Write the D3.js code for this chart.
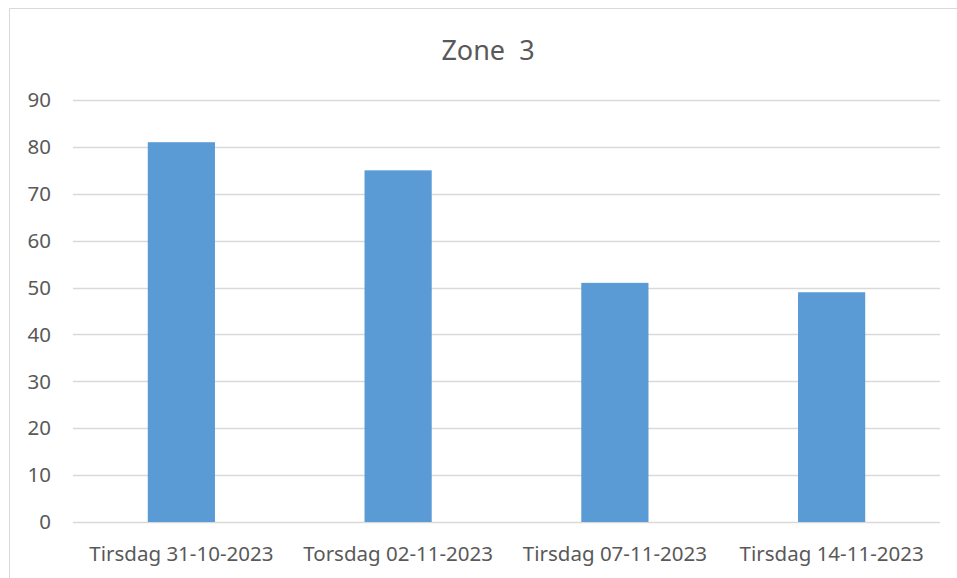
<!DOCTYPE html>
<html>
<head>
<meta charset="utf-8">
<script src="https://cdn.jsdelivr.net/npm/d3@7"></script>
<style>
  body { margin: 0; background: #fff; }
  text { font-family: "Noto Sans", "Liberation Sans", sans-serif; }
</style>
</head>
<body>
<div id="chart_area"></div>
<script>
var width = 957
var height = 578

// Data
var categories = ["Tirsdag 31-10-2023", "Torsdag 02-11-2023", "Tirsdag 07-11-2023", "Tirsdag 14-11-2023"]
var values = [81, 75, 51, 49]
var yTicks = [0, 10, 20, 30, 40, 50, 60, 70, 80, 90]
var title = "Zone\u00a0 3"

var plot = {left: 73, right: 940, top: 100, bottom: 522}

var svg = d3.select("#chart_area")
  .append("svg")
  .attr("width", width)
  .attr("height", height)

// outer border (chart area frame)
svg.append("path")
  .attr("d", "M9.5," + height + " V8.5 H" + width)
  .attr("fill", "none")
  .attr("stroke", "#d9d9d9")
  .attr("stroke-width", 1)

var x = d3.scaleBand()
  .domain(categories)
  .range([plot.left, plot.right])
  .paddingInner(0.69)
  .paddingOuter(0.345)

var y = d3.scaleLinear()
  .domain([0, 90])
  .range([plot.bottom, plot.top])

// gridlines
svg.append("g")
  .selectAll("line")
  .data(yTicks)
  .join("line")
  .attr("x1", plot.left)
  .attr("x2", plot.right)
  .attr("y1", d => Math.round(y(d)) + 0.5)
  .attr("y2", d => Math.round(y(d)) + 0.5)
  .attr("stroke", "#d9d9d9")
  .attr("stroke-width", 1.5)

// y tick labels
svg.append("g")
  .selectAll("text")
  .data(yTicks)
  .join("text")
  .attr("x", 51)
  .attr("y", d => y(d))
  .attr("dy", "0.35em")
  .attr("text-anchor", "end")
  .attr("fill", "#595959")
  .style("font-size", "20.5px")
  .text(d => d)

// bars
svg.append("g")
  .selectAll("rect")
  .data(values)
  .join("rect")
  .attr("x", (d, i) => x(categories[i]))
  .attr("y", d => y(d))
  .attr("width", x.bandwidth())
  .attr("height", d => y(0) - y(d))
  .attr("fill", "#5b9bd5")

// x labels
svg.append("g")
  .selectAll("text")
  .data(categories)
  .join("text")
  .attr("x", d => x(d) + x.bandwidth() / 2)
  .attr("y", 561)
  .attr("text-anchor", "middle")
  .attr("fill", "#595959")
  .style("font-size", "20.5px")
  .text(d => d)

// title
svg.append("text")
  .attr("x", 488)
  .attr("y", 60)
  .attr("text-anchor", "middle")
  .attr("fill", "#595959")
  .style("font-size", "27px")
  .text(title)
</script>
</body>
</html>
